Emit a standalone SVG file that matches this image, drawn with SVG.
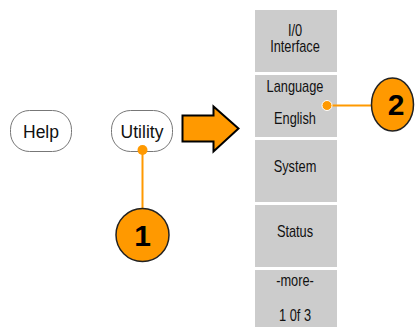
<svg xmlns="http://www.w3.org/2000/svg" width="415" height="327" viewBox="0 0 415 327">
<style>
.btn{fill:#fff;stroke:#777;stroke-width:1}
.btxt{font-family:"Liberation Sans",Arial,sans-serif;font-size:17.5px;fill:#111;text-anchor:middle}
.menu{fill:#cccccc}
.mtxt{font-family:"Liberation Sans",Arial,sans-serif;font-size:16px;fill:#111;text-anchor:middle}
.callout{fill:#ff9900;stroke:#222;stroke-width:1.5}
.num{font-family:"Liberation Sans",Arial,sans-serif;font-size:30px;font-weight:bold;fill:#000;text-anchor:middle}
.lead{stroke:#ff9900;stroke-width:2;fill:none}
.dot{fill:#ff9900}
</style>
<rect width="415" height="327" fill="#fff"/>
<g id="help">
<rect class="btn" x="10.5" y="110.5" width="61" height="41" rx="19" ry="19"/>
<text class="btxt" x="41" y="138">Help</text>
</g>
<g id="utility">
<rect class="btn" x="111.5" y="110.5" width="61" height="41" rx="19" ry="19"/>
<text class="btxt" x="142" y="138">Utility</text>
</g>
<g id="arrow">
<path d="M182.5,115.5 L213.5,115.5 L213.5,106.5 L238.5,128.5 L213.5,151.5 L213.5,141.5 L182.5,141.5 Z" fill="#ff9900" stroke="#000" stroke-width="2" stroke-linejoin="miter"/>
</g>
<g id="menu-io">
<rect class="menu" x="255" y="10" width="82" height="62"/>
<text class="mtxt" transform="translate(295,0) scale(0.8,1)" x="0" y="36">I/0</text>
<text class="mtxt" transform="translate(295,0) scale(0.8,1)" x="0" y="52.5">Interface</text>
</g>
<g id="menu-language">
<rect class="menu" x="255" y="75" width="82" height="62"/>
<text class="mtxt" transform="translate(295,0) scale(0.8,1)" x="0" y="92.5">Language</text>
<text class="mtxt" transform="translate(295,0) scale(0.8,1)" x="0" y="124.5">English</text>
</g>
<g id="menu-system">
<rect class="menu" x="255" y="140" width="82" height="62"/>
<text class="mtxt" transform="translate(295,0) scale(0.8,1)" x="0" y="172.5">System</text>
</g>
<g id="menu-status">
<rect class="menu" x="255" y="205" width="82" height="62"/>
<text class="mtxt" transform="translate(295,0) scale(0.8,1)" x="0" y="237.5">Status</text>
</g>
<g id="menu-more">
<rect class="menu" x="255" y="270" width="82" height="57"/>
<text class="mtxt" transform="translate(295,0) scale(0.8,1)" x="0" y="286.5">-more-</text>
<text class="mtxt" transform="translate(295,0) scale(0.8,1)" x="0" y="321.5">1 0f 3</text>
</g>
<g id="connectors">
<line class="lead" x1="142.5" y1="150" x2="142.5" y2="208.5"/>
<circle class="dot" cx="142.5" cy="150" r="5"/>
<line class="lead" x1="327" y1="105.5" x2="371.5" y2="105.5"/>
<circle class="dot" cx="327" cy="105.5" r="5" stroke="#fff" stroke-width="1"/>
</g>
<g id="callout-1">
<circle class="callout" cx="142.5" cy="235" r="26.5"/>
<text class="num" x="142.5" y="246">1</text>
</g>
<g id="callout-2">
<ellipse class="callout" cx="392.5" cy="104.5" rx="21" ry="26.5"/>
<text class="num" x="396" y="115">2</text>
</g>
</svg>
